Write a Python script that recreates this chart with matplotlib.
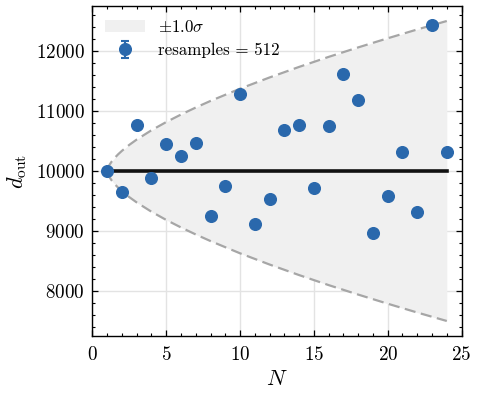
import matplotlib
matplotlib.use("Agg")
import matplotlib.pyplot as plt
from matplotlib.ticker import MultipleLocator

plt.rcParams.update({
    "font.family": "serif",
    "font.serif": ["cmr10"],
    "mathtext.fontset": "cm",
    "axes.unicode_minus": False,
    "axes.formatter.use_mathtext": True,
    "font.size": 12.2,
})

N = [1, 2, 3, 4, 5, 6, 7, 8, 9, 10, 11, 12, 13, 14, 15, 16, 17, 18, 19, 20, 21, 22, 23, 24]
d_out = [10000, 9651, 10773, 9880, 10444, 10243, 10471, 9244, 9752, 11280, 9116, 9540,
         10683, 10762, 9718, 10745, 11610, 11191, 8966, 9579, 10321, 9317, 12440, 10310]
d_err = [0, 15, 20, 15, 18, 16, 18, 15, 16, 22, 15, 16, 18, 18, 16, 18, 22, 20, 15, 16, 18, 15, 24, 18]
mean_value = 10000

band_N = [1, 1.05, 1.15, 1.3, 1.5, 1.75, 2, 2.5, 3, 4, 5, 6, 7, 8, 10, 12, 14, 16, 18, 20, 22, 24]
band_half = [0, 49, 100, 156, 216, 280, 336, 436, 524, 679, 816, 941, 1058, 1168, 1372, 1559,
             1735, 1902, 2060, 2212, 2359, 2500]

upper = [mean_value + h for h in band_half]
lower = [mean_value - h for h in band_half]

fig = plt.figure(figsize=(4.79, 3.95), dpi=100)
ax = fig.add_axes([0.192, 0.1494, 0.7725, 0.8354])

ax.fill_between(band_N, lower, upper, color="#f0f0f0", lw=0, label=r"$\pm1.0\sigma$", zorder=1)
ax.plot(band_N, upper, ls=(0, (5, 2.5)), color="#a6a6a6", lw=1.6, zorder=2)
ax.plot(band_N, lower, ls=(0, (5, 2.5)), color="#a6a6a6", lw=1.6, zorder=2)
ax.plot([N[0], N[-1]], [mean_value, mean_value], color="#111111", lw=2.6, zorder=3)
ax.errorbar(N, d_out, yerr=d_err, fmt="o", color="#2a68ac", ms=8.4, capsize=3,
            elinewidth=1.5, capthick=1.5, zorder=4, label="resamples = 512")

ax.set_xlim(-0.03, 25.03)
ax.set_ylim(7250, 12750)
ax.xaxis.set_major_locator(MultipleLocator(5))
ax.xaxis.set_minor_locator(MultipleLocator(1))
ax.yaxis.set_major_locator(MultipleLocator(1000))
ax.yaxis.set_minor_locator(MultipleLocator(200))
ax.tick_params(which="both", direction="in", top=True, right=True)
ax.tick_params(which="major", length=4, width=0.9, labelsize=13.8, pad=5)
ax.tick_params(axis="x", which="major", pad=7)
ax.tick_params(which="minor", length=2.2, width=0.8)
for s in ax.spines.values():
    s.set_linewidth(1.0)
ax.grid(True, which="major", color="#e3e3e3", lw=1.0, zorder=0)
ax.set_axisbelow(True)

ax.set_xlabel(r"$N$", fontsize=16, labelpad=4)
ax.set_ylabel(r"$d_{\rm out}$", fontsize=16, labelpad=5)

ax.legend(loc="upper left", frameon=False, fontsize=12.2, handlelength=2.4,
          borderaxespad=0.35, labelspacing=0.48, handletextpad=0.75)

fig.savefig("out.png", dpi=100)
